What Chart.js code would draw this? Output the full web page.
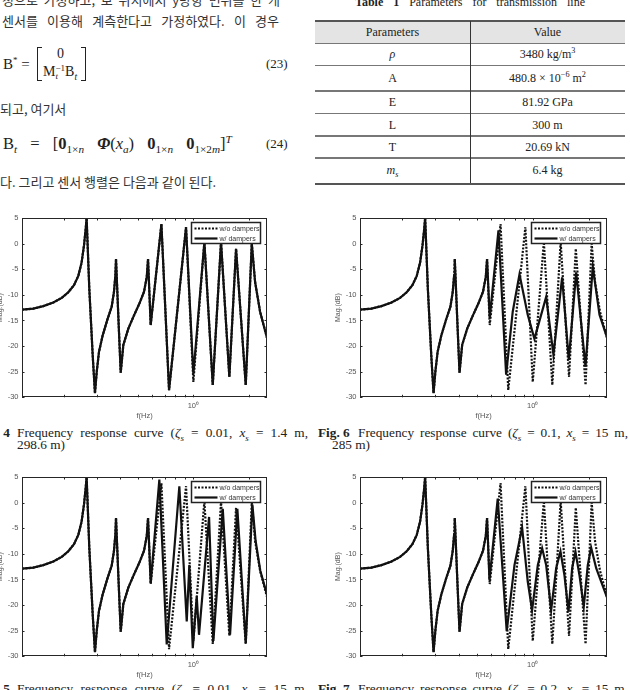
<!DOCTYPE html>
<html><head><meta charset="utf-8">
<script src="https://cdn.jsdelivr.net/npm/chart.js@4.4.1/dist/chart.umd.min.js"></script>
<style>
html,body{margin:0;padding:0;background:#fff;}
body{width:630px;height:690px;position:relative;overflow:hidden;}
.t{position:absolute;white-space:nowrap;color:#222;}
.kr{font-family:"Noto Sans CJK KR",sans-serif;font-size:13px;line-height:13px;color:#333;}
.sf{font-family:"Liberation Serif","Times New Roman",serif;}
.j{text-align:justify;text-align-last:justify;white-space:normal;}
sub,sup{font-size:68%;line-height:0;}
.ln{position:absolute;}
canvas{position:absolute;}
.cap{font-size:13.3px;line-height:14px;color:#222;}
.tb{font-size:12px;line-height:14px;text-align:center;width:155px;color:#222;}
</style></head><body>

<div class="t kr j" style="left:2px;top:-7px;width:278px;">정으로 가정하고, 보 위치에서 y방향 변위를 한 개</div>
<div class="t kr j" style="left:2px;top:13.5px;width:277px;">센서를 이용해 계측한다고 가정하였다. 이 경우</div>
<div class="t kr" style="left:0px;top:101.5px;">되고, 여기서</div>
<div class="t kr" style="left:0px;top:174.5px;">다. 그리고 센서 행렬은 다음과 같이 된다.</div>

<!-- eq 23 -->
<div class="t sf" style="left:3px;top:55px;font-size:15px;line-height:18px;">B<sup style="font-size:60%">*</sup>&nbsp;=</div>
<div class="ln" style="left:37px;top:47px;width:4px;height:32px;border:1px solid #222;border-right:none;"></div>
<div class="ln" style="left:81px;top:47px;width:4px;height:32px;border:1px solid #222;border-left:none;"></div>
<div class="t sf" style="left:57px;top:45px;font-size:14px;line-height:18px;">0</div>
<div class="t sf" style="left:43px;top:63px;font-size:14px;line-height:18px;">M<span style="display:inline-block;vertical-align:-3px;font-size:9px;line-height:8px;">−1<br><i>t</i></span>B<sub><i>t</i></sub></div>
<div class="t sf" style="left:266px;top:55px;font-size:13px;line-height:18px;">(23)</div>

<!-- eq 24 -->
<div class="t sf" style="left:3px;top:134px;font-size:16.5px;line-height:20px;word-spacing:9px;">B<sub><i>t</i></sub> = [<b>0</b><sub>1×<i>n</i></sub> <b><i>Φ</i></b>(<i>x<sub>a</sub></i>) <b>0</b><sub>1×<i>n</i></sub> <b>0</b><sub>1×2<i>m</i></sub>]<sup><i>T</i></sup></div>
<div class="t sf" style="left:266px;top:135px;font-size:13px;line-height:18px;">(24)</div>

<!-- table -->
<div class="t sf j" style="left:355px;top:-4px;width:230px;font-size:12px;line-height:12px;"><b>Table 1</b> Parameters for transmission line</div>
<div class="ln" style="left:315px;top:21.5px;width:310px;height:21.5px;background:#e4e4e4"></div>
<div class="ln" style="left:315px;top:19.5px;width:310px;height:2px;background:#555"></div>
<div class="ln" style="left:315px;top:42.5px;width:310px;height:1.5px;background:#777"></div>
<div class="ln" style="left:315px;top:64.5px;width:310px;height:1.5px;background:#777"></div>
<div class="ln" style="left:315px;top:90px;width:310px;height:1.5px;background:#777"></div>
<div class="ln" style="left:315px;top:112.5px;width:310px;height:1.5px;background:#777"></div>
<div class="ln" style="left:315px;top:135px;width:310px;height:1.5px;background:#777"></div>
<div class="ln" style="left:315px;top:157px;width:310px;height:1.5px;background:#777"></div>
<div class="ln" style="left:315px;top:182.5px;width:310px;height:2px;background:#555"></div>
<div class="ln" style="left:469.5px;top:21px;width:1.5px;height:162px;background:#333"></div>

<div class="t sf tb" style="left:315px;top:25px;">Parameters</div>
<div class="t sf tb" style="left:470px;top:25px;">Value</div>
<div class="t sf tb" style="left:315px;top:47px;"><i>ρ</i></div>
<div class="t sf tb" style="left:470px;top:47px;">3480 kg/m<sup>3</sup></div>
<div class="t sf tb" style="left:315px;top:71px;">A</div>
<div class="t sf tb" style="left:470px;top:71px;">480.8 × 10<sup>−6</sup> m<sup>2</sup></div>
<div class="t sf tb" style="left:315px;top:95px;">E</div>
<div class="t sf tb" style="left:470px;top:95px;">81.92 GPa</div>
<div class="t sf tb" style="left:315px;top:117.5px;">L</div>
<div class="t sf tb" style="left:470px;top:117.5px;">300 m</div>
<div class="t sf tb" style="left:315px;top:139.5px;">T</div>
<div class="t sf tb" style="left:470px;top:139.5px;">20.69 kN</div>
<div class="t sf tb" style="left:315px;top:163px;"><i>m<sub>s</sub></i></div>
<div class="t sf tb" style="left:470px;top:163px;">6.4 kg</div>

<!-- charts -->
<canvas id="c4" width="315" height="216" style="left:-23px;top:205px"></canvas>
<canvas id="c6" width="315" height="216" style="left:315px;top:205px"></canvas>
<canvas id="c5" width="315" height="216" style="left:-23px;top:464px"></canvas>
<canvas id="c7" width="315" height="216" style="left:315px;top:464px"></canvas>

<!-- captions -->
<div class="t sf cap" style="left:-40px;top:426px;width:50px;text-align:right;"><b>Fig. 4</b></div>
<div class="t sf cap j" style="left:17px;top:426px;width:291px;">Frequency response curve (<i>ζ<sub>s</sub></i> = 0.01, <i>x<sub>s</sub></i> = 1.4 m,</div>
<div class="t sf cap" style="left:17px;top:438px;">298.6 m)</div>
<div class="t sf cap" style="left:318px;top:426px;"><b>Fig. 6</b></div>
<div class="t sf cap j" style="left:358px;top:426px;width:270px;">Frequency response curve (<i>ζ<sub>s</sub></i> = 0.1, <i>x<sub>s</sub></i> = 15 m,</div>
<div class="t sf cap" style="left:332px;top:438px;">285 m)</div>

<div class="t sf cap" style="left:-40px;top:682px;width:50px;text-align:right;"><b>Fig. 5</b></div>
<div class="t sf cap j" style="left:17px;top:682px;width:291px;">Frequency response curve (<i>ζ<sub>s</sub></i> = 0.01, <i>x<sub>s</sub></i> = 15 m,</div>
<div class="t sf cap" style="left:318px;top:682px;"><b>Fig. 7</b></div>
<div class="t sf cap j" style="left:358px;top:682px;width:270px;">Frequency response curve (<i>ζ<sub>s</sub></i> = 0.2, <i>x<sub>s</sub></i> = 15 m,</div>

<script>
// axis settings
const xMin = 0.1186, xMax = 2.5;
const minorTicks = [0.2, 0.3, 0.4, 0.5, 0.6, 0.7, 0.8, 0.9, 1, 2];
const labelTicks = [1];
const yTicks = [-30, -25, -20, -15, -10, -5, 0, 5];
const seriesNames = ['w/o dampers', 'w/ dampers'];

// low-frequency section, identical for every curve (f in Hz, magnitude in dB)
const lowFreq = [0.1186,0.1365,0.1546,0.175,0.1944,0.211,0.2265,0.239,0.249,0.2566,0.262,0.265,0.274,0.2858,0.294,0.3006,0.3092,0.3237,0.3428,0.362,0.3726,0.3789,0.382,0.393,0.405,0.4184,0.4453,0.474,0.511,0.5414,0.56,0.569];
const lowMag  = [-12.9,-12.7,-12.2,-11.5,-10.6,-9.5,-8.1,-6.3,-3.7,-0.3,2.9,5,-8.8,-21.8,-29.2,-25,-21.1,-17.9,-14.9,-12.3,-9.4,-6.2,-3,-14,-25.2,-19.8,-16.6,-14.3,-11.7,-9.4,-6.5,-3];

// w/o dampers (same in all figures)
const woFreq = [0.588,0.672,0.739,0.913,1.0,1.147,1.273,1.411,1.565,1.701,1.919,2.069,2.156,2.294,2.5];
const woMag  = [-15.9,3.8,-28.6,3.2,-27,0.3,-27.6,0.3,-26,-1,-27.6,0,-7.5,-13.3,-18.4];

// Fig. 4 w/ dampers
const fig4Freq = [0.588,0.672,0.739,0.913,1.0,1.147,1.273,1.411,1.565,1.701,1.919,2.069,2.156,2.294,2.5];
const fig4Mag  = [-15.9,3.8,-28.6,3.2,-25.5,0.3,-27.6,0.3,-26,-1,-27.6,0,-7.5,-13.3,-18.4];

// Fig. 5 w/ dampers
const fig5Freq = [0.588,0.655,0.718,0.84,0.921,0.951,0.993,1.043,1.073,1.216,1.283,1.442,1.579,1.729,1.919,2.084,2.17,2.3,2.5];
const fig5Mag  = [-15.7,4.5,-27.7,3.2,-23.2,-12.2,-28.4,-18.3,-25.8,-2.8,-27,-1.2,-25.8,-1.2,-27.4,-0.4,-7.5,-13.3,-18];

// Fig. 6 w/ dampers
const fig6Freq = [0.588,0.655,0.72,0.781,0.849,0.94,1.021,1.18,1.291,1.437,1.56,1.709,1.917,2.098,2.279,2.5];
const fig6Mag  = [-14.5,2.6,-25.6,-13.3,-6.0,-13.9,-18.6,-10.4,-21.7,-6.6,-22.7,-5.6,-24,-4.5,-13.9,-18.3];

// Fig. 7 w/ dampers
const fig7Freq = [0.586,0.649,0.725,0.798,0.877,0.94,0.992,1.064,1.123,1.18,1.255,1.335,1.408,1.479,1.554,1.626,1.694,1.78,1.877,1.972,2.056,2.188,2.5];
const fig7Mag  = [-15.1,0.8,-25.1,-12.2,-4.9,-15.4,-21,-12.2,-8.9,-12.2,-21,-12.8,-9.5,-14.2,-21.3,-12.8,-9.6,-14.2,-20.3,-12.2,-8.8,-12.8,-18.5];

Chart.defaults.font.family = "'Liberation Sans', Arial, sans-serif";

function pts(f1, m1, f2, m2) {
  const out = [];
  f1.forEach((f, i) => out.push({x: f, y: m1[i]}));
  f2.forEach((f, i) => out.push({x: f, y: m2[i]}));
  return out;
}

const framePlugin = {
  id: 'frame',
  afterDatasetsDraw(chart) {
    const {ctx, chartArea: a, scales: {x, y}} = chart;
    ctx.save();
    ctx.strokeStyle = '#262626';
    ctx.lineWidth = 1;
    ctx.strokeRect(Math.round(a.left) + 0.5, Math.round(a.top) + 0.5, Math.round(a.right - a.left) - 1, Math.round(a.bottom - a.top) - 1);
    const tl = 2.5;
    ctx.beginPath();
    minorTicks.forEach(v => {
      const px = Math.round(x.getPixelForValue(v)) + 0.5;
      ctx.moveTo(px, a.bottom); ctx.lineTo(px, a.bottom - tl);
      ctx.moveTo(px, a.top); ctx.lineTo(px, a.top + tl);
    });
    yTicks.forEach(v => {
      const py = Math.round(y.getPixelForValue(v)) + 0.5;
      ctx.moveTo(a.left, py); ctx.lineTo(a.left + tl, py);
      ctx.moveTo(a.right, py); ctx.lineTo(a.right - tl, py);
    });
    ctx.stroke();
    // legend box
    const bw = 69, bh = 21;
    const bx = Math.round(a.right - 7 - bw) + 0.5, by = Math.round(a.top + 4) + 0.5;
    ctx.fillStyle = '#fff';
    ctx.fillRect(bx, by, bw, bh);
    ctx.lineWidth = 1.5;
    ctx.strokeStyle = '#222';
    ctx.strokeRect(bx, by, bw, bh);
    chart.data.datasets.forEach((ds, i) => {
      const ly = by + 6 + i * 10;
      ctx.beginPath();
      ctx.lineWidth = ds.borderWidth;
      ctx.strokeStyle = ds.borderColor;
      ctx.setLineDash(ds.borderDash || []);
      ctx.moveTo(bx + 3, ly); ctx.lineTo(bx + 26, ly);
      ctx.stroke();
      ctx.setLineDash([]);
      ctx.fillStyle = '#333';
      ctx.font = "7px 'Liberation Sans', Arial, sans-serif";
      ctx.textBaseline = 'middle';
      ctx.textAlign = 'left';
      ctx.fillText(ds.label, bx + 28, ly + 0.5);
    });
    ctx.restore();
  }
};

function makeChart(id, wF, wM, padRight) {
  new Chart(document.getElementById(id), {
    type: 'line',
    data: {
      datasets: [
        {label: seriesNames[0], data: pts(lowFreq, lowMag, woFreq, woMag), borderColor: '#111', borderWidth: 2.2, borderDash: [2, 1.5], pointRadius: 0, tension: 0, order: 1, clip: 0},
        {label: seriesNames[1], data: pts(lowFreq, lowMag, wF, wM), borderColor: '#111', borderWidth: 2.2, pointRadius: 0, tension: 0, order: 0, clip: 0}
      ]
    },
    options: {
      responsive: false, animation: false, events: [],
      layout: {padding: {top: 13, right: padRight, left: 0, bottom: 0}},
      plugins: {legend: {display: false}, tooltip: {enabled: false}},
      scales: {
        x: {
          type: 'logarithmic', min: xMin, max: xMax,
          grid: {display: false, drawTicks: false}, border: {display: false},
          afterBuildTicks: s => { s.ticks = labelTicks.map(v => ({value: v})); },
          afterFit: s => { s.height = 23.7; },
          ticks: {callback: v => (v === 1 ? '10\u2070' : ''), padding: 4.5, color: '#555', font: {size: 7.5}, maxRotation: 0, autoSkip: false},
          title: {display: true, text: 'f(Hz)', color: '#555', font: {size: 7.5}, padding: {top: 0, bottom: 1}}
        },
        y: {
          min: -30, max: 5,
          grid: {display: false, drawTicks: false}, border: {display: false},
          afterBuildTicks: s => { s.ticks = yTicks.map(v => ({value: v})); },
          afterFit: s => { s.width = 45; },
          ticks: {padding: 3.5, color: '#555', font: {size: 7.5}},
          title: {display: true, text: 'Mag.(dB)', color: '#555', font: {size: 7}, padding: {top: 19, bottom: 0}}
        }
      }
    },
    plugins: [framePlugin]
  });
}

makeChart('c4', fig4Freq, fig4Mag, 25);
makeChart('c6', fig6Freq, fig6Mag, 23);
makeChart('c5', fig5Freq, fig5Mag, 25);
makeChart('c7', fig7Freq, fig7Mag, 23);
</script>
</body></html>
